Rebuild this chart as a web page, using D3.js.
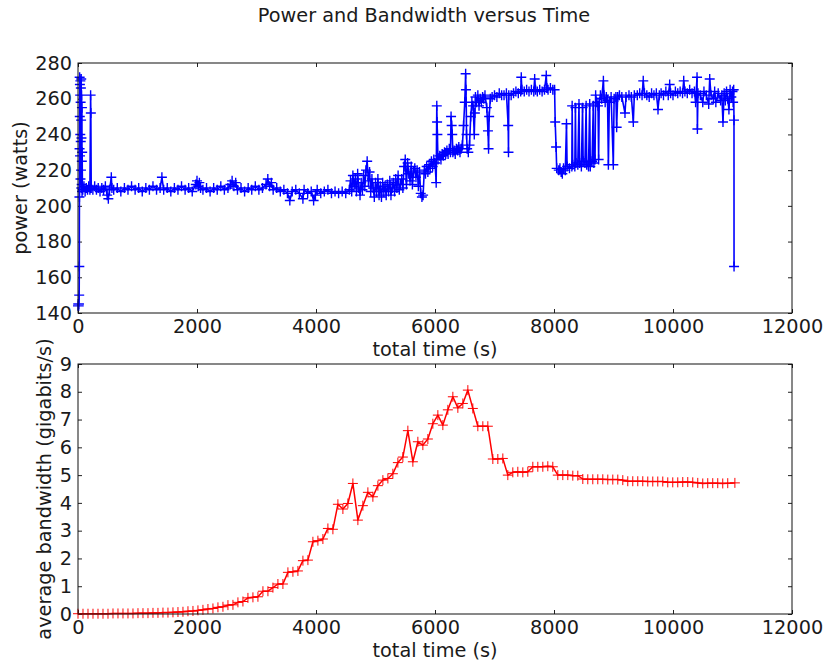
<html>

<head>
    <script src="https://d3js.org/d3.v7.min.js"></script>
</head>

<body style="margin:0;background:white">
    <svg></svg>
    <script>
        // tick values shared by both panels
        const timeTicks = [0, 2000, 4000, 6000, 8000, 10000, 12000]
        const powerTicks = [140, 160, 180, 200, 220, 240, 260, 280]
        const bandwidthTicks = [0, 1, 2, 3, 4, 5, 6, 7, 8, 9]

        // power readings: [total time (s), watts]
        const powerReadings = [
            [0, 144], [4, 145], [8, 144], [12, 144], [16, 145], [20, 150], [22, 166], [24, 205], [26, 232], [28, 272],
            [30, 250], [32, 268], [34, 228], [36, 262], [38, 240], [40, 270], [42, 215], [44, 258], [46, 236], [48, 266],
            [50, 220], [52, 248], [54, 271], [56, 210], [58, 238], [60, 262], [62, 212], [64, 225], [66, 255], [68, 208],
            [70, 230], [74, 210], [80, 209], [100, 211], [120, 208], [140, 210], [160, 209], [180, 211], [200, 209], [212, 262],
            [216, 252], [222, 210], [250, 209], [280, 211], [310, 209], [340, 210], [370, 208], [400, 210], [430, 209], [460, 211],
            [490, 206], [510, 204], [530, 209], [560, 216], [570, 210], [600, 209], [660, 210], [720, 208], [780, 210], [840, 209],
            [900, 211], [960, 209], [1020, 210], [1080, 208], [1140, 210], [1200, 209], [1260, 211], [1320, 209], [1380, 210], [1410, 216],
            [1440, 209], [1500, 210], [1560, 208], [1620, 210], [1680, 209], [1740, 211], [1800, 209], [1860, 210], [1920, 208], [1980, 212],
            [2000, 214], [2020, 211], [2040, 213], [2060, 210], [2100, 209], [2160, 210], [2220, 208], [2280, 210], [2340, 209], [2400, 211],
            [2460, 209], [2520, 210], [2560, 212], [2590, 214], [2620, 211], [2650, 213], [2680, 209], [2740, 210], [2800, 208], [2860, 210],
            [2920, 209], [2980, 211], [3040, 209], [3100, 210], [3160, 212], [3190, 215], [3220, 211], [3250, 213], [3280, 209], [3340, 210],
            [3400, 208], [3460, 209], [3520, 207], [3560, 203], [3600, 208], [3660, 209], [3720, 207], [3780, 204], [3800, 209], [3860, 207],
            [3920, 208], [3960, 203], [3990, 206], [4020, 209], [4080, 207], [4140, 208], [4200, 209], [4260, 207], [4320, 208], [4380, 207],
            [4440, 208], [4500, 207], [4560, 209], [4580, 214], [4600, 208], [4620, 217], [4640, 211], [4660, 215], [4680, 208], [4700, 218],
            [4720, 210], [4740, 206], [4760, 213], [4780, 209], [4800, 217], [4820, 211], [4840, 220], [4860, 225], [4880, 214], [4900, 219],
            [4920, 208], [4940, 215], [4960, 210], [4980, 205], [5000, 213], [5020, 208], [5040, 215], [5060, 206], [5080, 211], [5100, 205],
            [5120, 213], [5140, 208], [5160, 211], [5180, 206], [5200, 212], [5220, 208], [5240, 214], [5260, 206], [5280, 210], [5300, 213],
            [5320, 208], [5340, 215], [5360, 210], [5380, 217], [5400, 209], [5420, 212], [5440, 215], [5460, 210], [5480, 222], [5500, 226],
            [5520, 212], [5540, 224], [5560, 218], [5580, 214], [5600, 222], [5620, 212], [5640, 219], [5660, 221], [5680, 216], [5700, 220],
            [5720, 211], [5740, 219], [5760, 207], [5780, 205], [5800, 206], [5820, 220], [5840, 218], [5860, 222], [5880, 219], [5900, 223],
            [5920, 221], [5940, 225], [5960, 222], [5980, 226], [6000, 224], [6020, 213], [6030, 256], [6035, 247], [6040, 240], [6050, 226],
            [6080, 228], [6100, 226], [6120, 229], [6140, 228], [6160, 230], [6180, 229], [6200, 231], [6220, 229], [6240, 232], [6260, 230],
            [6270, 250], [6280, 245], [6290, 240], [6300, 230], [6320, 231], [6340, 229], [6360, 232], [6380, 231], [6400, 233], [6420, 230],
            [6440, 232], [6460, 234], [6480, 245], [6500, 258], [6515, 274], [6520, 265], [6525, 258], [6530, 240], [6540, 232], [6560, 230],
            [6580, 234], [6600, 250], [6620, 258], [6640, 256], [6660, 240], [6670, 252], [6680, 261], [6700, 258], [6720, 262], [6740, 256],
            [6760, 260], [6780, 258], [6800, 261], [6820, 260], [6840, 262], [6870, 255], [6890, 242], [6900, 232], [6910, 250], [6930, 260],
            [6960, 261], [7000, 262], [7040, 261], [7080, 263], [7120, 262], [7160, 262], [7200, 263], [7230, 245], [7235, 230], [7240, 262],
            [7280, 262], [7320, 263], [7360, 264], [7400, 263], [7440, 264], [7450, 272], [7460, 265], [7500, 264], [7540, 265], [7580, 264],
            [7620, 265], [7660, 264], [7675, 271], [7690, 265], [7720, 264], [7760, 265], [7800, 264], [7840, 265], [7870, 273], [7880, 266],
            [7900, 265], [7940, 266], [7980, 265], [8010, 265], [8020, 247], [8035, 233], [8045, 221], [8080, 220], [8100, 221], [8120, 219],
            [8140, 218], [8160, 221], [8190, 220], [8210, 246], [8220, 222], [8260, 221], [8300, 222], [8305, 256], [8315, 223], [8350, 222],
            [8360, 255], [8370, 224], [8400, 223], [8420, 257], [8430, 224], [8460, 222], [8480, 255], [8490, 225], [8520, 224], [8540, 256],
            [8550, 223], [8580, 222], [8600, 257], [8610, 222], [8640, 225], [8660, 256], [8670, 224], [8690, 226], [8700, 262], [8720, 258],
            [8740, 256], [8750, 226], [8760, 258], [8780, 262], [8800, 260], [8830, 270], [8840, 262], [8860, 258], [8880, 261], [8900, 259],
            [8914, 223], [8930, 258], [8960, 261], [8997, 223], [9010, 260], [9040, 261], [9053, 244], [9070, 261], [9100, 262], [9140, 261],
            [9193, 252], [9210, 261], [9260, 262], [9300, 261], [9333, 247], [9350, 262], [9400, 262], [9440, 263], [9480, 262], [9500, 270],
            [9520, 263], [9560, 262], [9600, 261], [9640, 263], [9680, 262], [9720, 263], [9748, 254], [9770, 262], [9800, 263], [9840, 262],
            [9880, 264], [9920, 262], [9944, 268], [9960, 263], [10000, 262], [10040, 264], [10080, 263], [10120, 264], [10160, 263], [10180, 270],
            [10200, 264], [10240, 263], [10280, 265], [10320, 263], [10360, 264], [10380, 258], [10404, 272], [10410, 243], [10420, 263], [10460, 262],
            [10500, 258], [10520, 264], [10560, 262], [10600, 257], [10617, 271], [10640, 262], [10680, 260], [10700, 264], [10720, 258], [10760, 263],
            [10800, 259], [10820, 262], [10840, 247], [10860, 263], [10880, 259], [10900, 264], [10920, 260], [10940, 254], [10960, 265], [10980, 261],
            [11000, 264], [11010, 258], [11020, 265], [11025, 248], [11026, 166]
        ]

        // bandwidth samples
        const bandwidthTime = [
            0, 84, 168, 252, 336, 420, 504, 588, 672, 756, 840, 924, 1008, 1092, 1176, 1260, 1344, 1428, 1512, 1596,
            1680, 1764, 1848, 1932, 2016, 2100, 2184, 2268, 2352, 2436, 2520, 2604, 2688, 2772, 2856, 2940, 3024, 3108, 3192, 3276,
            3360, 3444, 3528, 3612, 3696, 3780, 3864, 3948, 4032, 4116, 4200, 4284, 4368, 4452, 4536, 4620, 4704, 4788, 4872, 4956,
            5040, 5124, 5208, 5292, 5376, 5460, 5544, 5628, 5712, 5796, 5880, 5964, 6048, 6132, 6216, 6300, 6384, 6468, 6552, 6636,
            6720, 6804, 6888, 6972, 7056, 7140, 7224, 7308, 7392, 7476, 7560, 7644, 7728, 7812, 7896, 7980, 8064, 8148, 8232, 8316,
            8400, 8484, 8568, 8652, 8736, 8820, 8904, 8988, 9072, 9156, 9240, 9324, 9408, 9492, 9576, 9660, 9744, 9828, 9912, 9996,
            10080, 10164, 10248, 10332, 10416, 10500, 10584, 10668, 10752, 10836, 10920, 11040
        ]
        const bandwidthGbps = [
            0.01, 0.01, 0.01, 0.01, 0.01, 0.01, 0.01, 0.02, 0.02, 0.02, 0.02, 0.02, 0.03, 0.03, 0.03, 0.04, 0.04, 0.05, 0.05, 0.06,
            0.07, 0.08, 0.10, 0.11, 0.13, 0.15, 0.18, 0.20, 0.24, 0.26, 0.32, 0.33, 0.42, 0.45, 0.58, 0.60, 0.62, 0.82, 0.82, 0.95,
            1.08, 1.08, 1.50, 1.52, 1.55, 1.92, 1.94, 2.60, 2.64, 2.70, 3.08, 3.05, 3.95, 3.78, 3.98, 4.70, 3.38, 3.90, 4.38, 4.22,
            4.62, 4.82, 4.88, 5.05, 5.45, 5.65, 6.60, 5.48, 6.20, 6.08, 6.30, 6.85, 7.16, 6.80, 7.35, 7.82, 7.42, 7.58, 8.06, 7.40,
            6.76, 6.76, 6.76, 5.58, 5.58, 5.60, 5.00, 5.10, 5.12, 5.10, 5.12, 5.30, 5.30, 5.30, 5.32, 5.30, 5.00, 5.00, 5.00, 4.98,
            4.98, 4.86, 4.85, 4.85, 4.85, 4.85, 4.84, 4.84, 4.84, 4.82, 4.78, 4.78, 4.78, 4.78, 4.77, 4.77, 4.77, 4.77, 4.74, 4.74,
            4.74, 4.75, 4.75, 4.74, 4.72, 4.70, 4.71, 4.71, 4.71, 4.70, 4.71, 4.72
        ]

        const width = 828
        const height = 668
        const plotLeft = 78
        const plotRight = 792
        const fontFamily = "DejaVu Sans, sans-serif"
        const fontSize = 19.3
        const textColor = "#1a1a1a"
        const markerHalf = 5

        const svg = d3.select("svg")
            .attr("width", width)
            .attr("height", height)
            .attr("viewBox", [0, 0, width, height])
            .style("display", "block")
            .style("font-family", fontFamily)

        const xScale = d3.scaleLinear([0, 12000], [plotLeft, plotRight])

        svg.append("text")
            .attr("x", 424)
            .attr("y", 22)
            .attr("text-anchor", "middle")
            .attr("font-size", fontSize)
            .attr("fill", textColor)
            .text("Power and Bandwidth versus Time")

        function drawPanel(top, bottom, yDomain, yTicks, xs, ys, color, lineWidth, markerWidth, yLabel, yLabelX) {
            const yScale = d3.scaleLinear(yDomain, [bottom, top])
            const g = svg.append("g")

            // inward ticks on all four sides, like the old matplotlib style
            const styleAxis = a => a.call(s => s.select(".domain").remove())
                .call(s => s.selectAll(".tick line").attr("stroke", "#222"))
                .call(s => s.selectAll(".tick text")
                    .attr("font-size", fontSize)
                    .attr("font-family", fontFamily)
                    .attr("fill", textColor))

            g.append("g")
                .attr("transform", `translate(0,${bottom})`)
                .call(d3.axisBottom(xScale).tickValues(timeTicks).tickFormat(d3.format("d")).tickSize(-4).tickPadding(6))
                .call(styleAxis)
            g.append("g")
                .attr("transform", `translate(0,${top})`)
                .call(d3.axisTop(xScale).tickValues(timeTicks).tickSize(-4).tickFormat(""))
                .call(styleAxis)
            g.append("g")
                .attr("transform", `translate(${plotLeft},0)`)
                .call(d3.axisLeft(yScale).tickValues(yTicks).tickFormat(d3.format("d")).tickSize(-4).tickPadding(6))
                .call(styleAxis)
            g.append("g")
                .attr("transform", `translate(${plotRight},0)`)
                .call(d3.axisRight(yScale).tickValues(yTicks).tickSize(-4).tickFormat(""))
                .call(styleAxis)

            const I = d3.range(xs.length)
            const line = d3.line()
                .x(i => xScale(xs[i]))
                .y(i => yScale(ys[i]))

            g.append("path")
                .attr("fill", "none")
                .attr("stroke", color)
                .attr("stroke-width", lineWidth)
                .attr("stroke-linejoin", "round")
                .attr("d", line(I))

            // plus markers
            g.append("path")
                .attr("fill", "none")
                .attr("stroke", color)
                .attr("stroke-width", markerWidth)
                .attr("d", I.map(i => {
                    const px = xScale(xs[i]), py = yScale(ys[i])
                    return `M${px - markerHalf},${py}h${markerHalf * 2}M${px},${py - markerHalf}v${markerHalf * 2}`
                }).join(""))

            g.append("rect")
                .attr("x", plotLeft)
                .attr("y", top)
                .attr("width", plotRight - plotLeft)
                .attr("height", bottom - top)
                .attr("fill", "none")
                .attr("stroke", "#111")
                .attr("stroke-width", 1)

            g.append("text")
                .attr("x", (plotLeft + plotRight) / 2)
                .attr("y", bottom + 43)
                .attr("text-anchor", "middle")
                .attr("font-size", fontSize)
                .attr("fill", textColor)
                .text("total time (s)")

            g.append("text")
                .attr("transform", `translate(${yLabelX},${(top + bottom) / 2}) rotate(-90)`)
                .attr("text-anchor", "middle")
                .attr("dy", "0.35em")
                .attr("font-size", fontSize)
                .attr("fill", textColor)
                .text(yLabel)
        }

        drawPanel(63, 313, [140, 280], powerTicks,
            powerReadings.map(d => d[0]), powerReadings.map(d => d[1]),
            "#0000ff", 1.6, 1.4, "power (watts)", 20)

        drawPanel(364, 614, [0, 9], bandwidthTicks,
            bandwidthTime, bandwidthGbps,
            "#ff0000", 1.5, 1, "average bandwidth (gigabits/s)", 44)
    </script>
</body>

</html>
